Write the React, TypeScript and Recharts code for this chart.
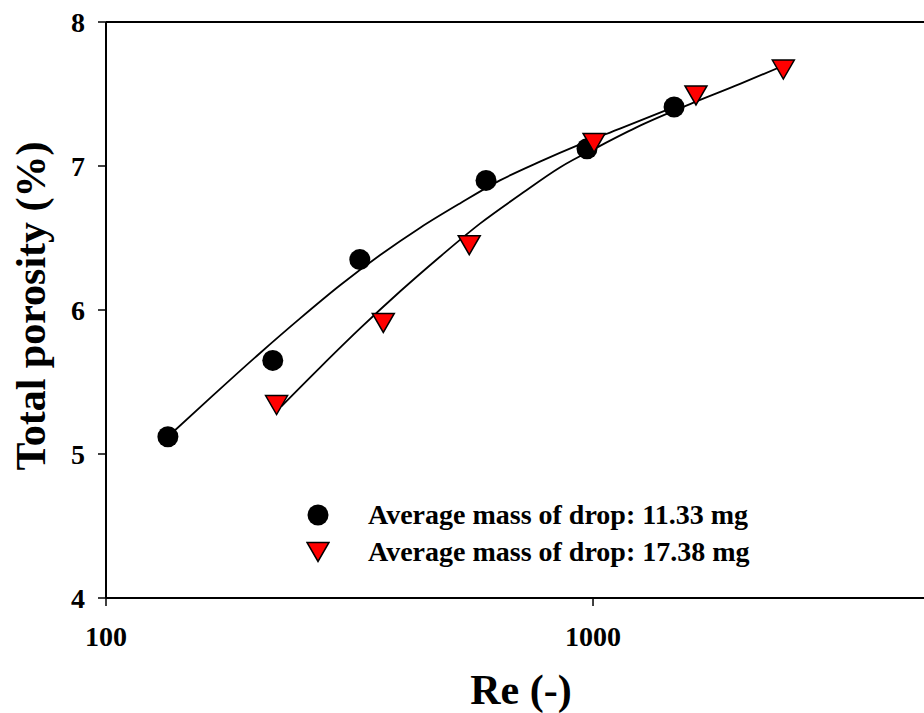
import React from 'react';
import { ComposedChart, Scatter, Line, XAxis, YAxis, ReferenceLine, Legend, Label } from 'recharts';

// measured points (Re, porosity %)
const circleRe = [134, 220, 332, 603, 972, 1467];
const circlePorosity = [5.12, 5.65, 6.35, 6.9, 7.12, 7.41];

const triangleRe = [224, 371, 557, 1005, 1627, 2459];
const trianglePorosity = [5.34, 5.91, 6.45, 7.16, 7.49, 7.67];

// fitted curves
const circleFitRe = [134, 165, 207, 250, 302, 365, 441, 533, 644, 778, 940, 1136, 1467];
const circleFitPorosity = [5.12, 5.4, 5.7, 5.94, 6.17, 6.38, 6.57, 6.74, 6.9, 7.03, 7.15, 7.26, 7.41];

const triangleFitRe = [229, 275, 332, 402, 485, 586, 708, 855, 1034, 1249, 1582, 2004, 2432];
const triangleFitPorosity = [5.33, 5.6, 5.87, 6.13, 6.37, 6.6, 6.8, 6.99, 7.14, 7.28, 7.43, 7.57, 7.69];

const xTicks = [100, 1000];
const yTicks = [4, 5, 6, 7, 8];

const seriesNames = ['Average mass of drop: 11.33 mg', 'Average mass of drop: 17.38 mg'];

const zip = (xs: number[], ys: number[]) => xs.map((x, i) => ({ x, y: ys[i] }));

const circles = zip(circleRe, circlePorosity);
const triangles = zip(triangleRe, trianglePorosity);
const circleFit = zip(circleFitRe, circleFitPorosity);
const triangleFit = zip(triangleFitRe, triangleFitPorosity);

const FONT = '"Liberation Serif", "Times New Roman", serif';

const CircleDot = (props: any) => {
    const { cx, cy } = props;
    return <circle cx={cx} cy={cy} r={10.5} fill="#000" />;
};

const TriangleDot = (props: any) => {
    const { cx, cy } = props;
    const pts = `${cx - 11},${cy - 9.5} ${cx + 11},${cy - 9.5} ${cx},${cy + 9.5}`;
    return <polygon points={pts} fill="#ff0000" stroke="#000" strokeWidth={1.5} />;
};

const LegendBox = () => (
    <div style={{ fontFamily: FONT, fontWeight: 'bold', fontSize: 28, color: '#000' }}>
        {seriesNames.map((name, i) => (
            <div key={name} style={{ display: 'flex', alignItems: 'center', height: 37, lineHeight: '37px' }}>
                <svg width={24} height={24} style={{ marginRight: 38, flexShrink: 0 }}>
                    {i === 0 ? (
                        <circle cx={12} cy={12} r={10.5} fill="#000" />
                    ) : (
                        <polygon points="1,2.5 23,2.5 12,21.5" fill="#ff0000" stroke="#000" strokeWidth={1.5} />
                    )}
                </svg>
                <span style={{ whiteSpace: 'nowrap' }}>{name}</span>
            </div>
        ))}
    </div>
);

const tickStyle = { fill: '#000', fontSize: 28, fontWeight: 'bold', fontFamily: FONT };

export default function App() {
    return (
        <div style={{ position: 'absolute', left: 0, top: 0, background: '#fff' }}>
            <ComposedChart width={924} height={713} margin={{ top: 22, right: 0, bottom: 0, left: 0 }}>
                <XAxis
                    dataKey="x"
                    type="number"
                    scale="log"
                    domain={[100, 4782]}
                    allowDataOverflow
                    ticks={xTicks}
                    height={115}
                    tick={tickStyle}
                    tickSize={8}
                    tickMargin={20}
                    axisLine={{ stroke: '#000', strokeWidth: 2 }}
                    tickLine={{ stroke: '#000', strokeWidth: 1.5 }}
                >
                    <Label
                        content={() => (
                            <text x={521} y={704} textAnchor="middle" fontFamily={FONT} fontWeight="bold" fontSize={42} fill="#000">
                                Re (-)
                            </text>
                        )}
                    />
                </XAxis>
                <YAxis
                    dataKey="y"
                    type="number"
                    domain={[4, 8]}
                    ticks={yTicks}
                    width={106}
                    tick={tickStyle}
                    tickSize={8}
                    tickMargin={13}
                    axisLine={{ stroke: '#000', strokeWidth: 2 }}
                    tickLine={{ stroke: '#000', strokeWidth: 1.5 }}
                >
                    <Label
                        content={() => (
                            <text
                                x={30}
                                y={306}
                                transform="rotate(-90 30 306)"
                                textAnchor="middle"
                                dy="0.35em"
                                fontFamily={FONT}
                                fontWeight="bold"
                                fontSize={42}
                                fill="#000"
                            >
                                Total porosity (%)
                            </text>
                        )}
                    />
                </YAxis>
                <ReferenceLine y={8} stroke="#000" strokeWidth={2} />
                <Scatter data={circles} shape={<CircleDot />} isAnimationActive={false} />
                <Scatter data={triangles} shape={<TriangleDot />} isAnimationActive={false} />
                <Line data={circleFit} dataKey="y" type="monotone" stroke="#000" strokeWidth={1.8} dot={false} activeDot={false} isAnimationActive={false} />
                <Line data={triangleFit} dataKey="y" type="monotone" stroke="#000" strokeWidth={1.8} dot={false} activeDot={false} isAnimationActive={false} />
                <Legend
                    layout="horizontal"
                    verticalAlign="middle"
                    align="center"
                    content={<LegendBox />}
                    wrapperStyle={{ left: 306, top: 496, width: 'auto' }}
                />
            </ComposedChart>
        </div>
    );
}
